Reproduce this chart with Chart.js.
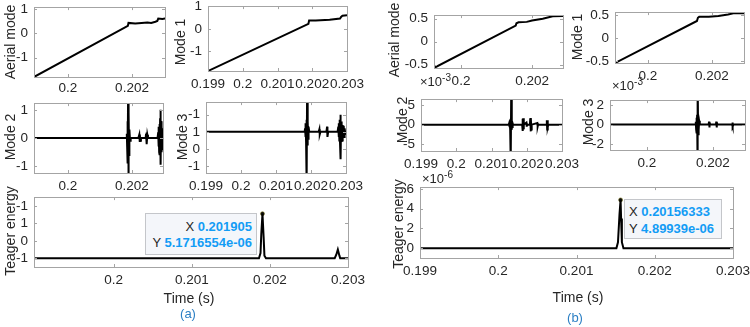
<!DOCTYPE html>
<html>
<head>
<meta charset="utf-8">
<script src="https://cdn.jsdelivr.net/npm/chart.js@4.4.1/dist/chart.umd.min.js"></script>
<style>
  html, body { margin: 0; padding: 0; background: #fff; }
  #fig { position: relative; width: 750px; height: 327px; overflow: hidden;
         font-family: "Liberation Sans", Arial, sans-serif; color: #262626; }
  #fig canvas { position: absolute; }
  .ylab { position: absolute; font-size: 14px; white-space: nowrap;
          transform: translate(-50%, -50%) rotate(-90deg); }
  .txt { position: absolute; white-space: nowrap; transform: translate(-50%, -50%); font-size: 14px; }
  .cap { color: #2b7fc4; font-size: 13px; }
  .mult { position: absolute; font-size: 13px; white-space: nowrap; line-height: 15px; }
  .mult sup { font-size: 10px; vertical-align: 5px; line-height: 0; }
  .tip { position: absolute; box-sizing: border-box; background: #f4f6fa; border: 1px solid #c4c6ca;
         font-size: 13px; white-space: nowrap; }
  .tip b { color: #139cf5; }
</style>
</head>
<body>
<div id="fig"></div>
<script>
// ---- (a) left figure ----
var aerialTimeA = [0.19894, 0.20187, 0.20189, 0.20210, 0.20230, 0.20248, 0.20260, 0.20273, 0.20279, 0.20282, 0.20295, 0.20310];
var aerialValA  = [-1.80, 0.30, 0.42, 0.40, 0.42, 0.44, 0.42, 0.47, 0.50, 0.60, 0.58, 0.62];

var mode1TimeA = [0.199, 0.20189, 0.20191, 0.2021, 0.2025, 0.2028, 0.20283, 0.20287, 0.2030];
var mode1ValA  = [-1.86, 0.22, 0.37, 0.37, 0.40, 0.45, 0.52, 0.58, 0.60];

var mode2TimeA = [0.19894, 0.20182, 0.20184, 0.20185, 0.20186, 0.20187, 0.20188, 0.20189, 0.20190, 0.20191, 0.20192, 0.20194, 0.20196,
                  0.20220, 0.20223, 0.20224, 0.20225, 0.20226, 0.20228,
                  0.20243, 0.20244, 0.20245, 0.20246, 0.20247, 0.20248, 0.20250,
                  0.20280, 0.20282, 0.20283, 0.20284, 0.20285, 0.20286, 0.20287, 0.20288, 0.20289, 0.20290, 0.20291, 0.20292, 0.20293, 0.20294, 0.20295, 0.20296, 0.20297];
var mode2ValA  = [0, 0, 0.15, -0.3, 0.6, -0.9, 1.6, -1.6, 0.9, -0.6, 0.3, -0.1, 0,
                  0, 0.12, -0.14, 0.12, -0.1, 0,
                  0, 0.15, -0.22, 0.2, -0.2, 0.12, 0,
                  0, 0.2, -0.3, 0.4, -0.5, 0.5, -0.6, 0.7, 1.0, -0.95, 0.6, -0.5, 0.45, -0.4, 0.35, -0.3, 0.2];

var mode3TimeA = [0.199, 0.20182, 0.20183, 0.20184, 0.20185, 0.20186, 0.20187, 0.20188, 0.20189, 0.20190, 0.20191, 0.20192, 0.20193, 0.20195,
                  0.20222, 0.20224, 0.20225, 0.20227,
                  0.20244, 0.20246, 0.20247, 0.20249,
                  0.20276, 0.20278, 0.20279, 0.20280, 0.20281, 0.20282, 0.20283, 0.20284, 0.20285, 0.20286, 0.20287, 0.20288, 0.20289,
                  0.20290, 0.20291, 0.20292, 0.20293, 0.20294, 0.20295, 0.20296, 0.20298, 0.203];
var mode3ValA  = [1, 1, 1.2, 0.7, 1.5, 0.4, 1.7, -2, 4, 0.2, 1.6, 0.6, 1.3, 1,
                  1, 1.15, 0.85, 1,
                  1, 1.3, 0.7, 1,
                  1, 1.3, 0.7, 1.5, 0.5, 1.7, 0.3, 2.0, -0.6, 1.6, 0.4, 1.5, 0.5,
                  1.4, 0.6, 1.35, 0.65, 1.3, 0.7, 1.2, 0.9, 1];

var teagerTimeA = [0.19898, 0.20186, 0.20188, 0.20189, 0.201905, 0.20192, 0.20193, 0.20195, 0.20283, 0.20285, 0.20287, 0.20289, 0.2029, 0.203];
var teagerValA  = [-1, -1, -0.7, 0.4, 1.55, 0.2, -0.85, -1, -1, -0.8, -0.5, -0.85, -1, -1];
var peakA = [0.201905, 1.55];

// ---- (b) right figure ----
var aerialTimeB = [0.19924, 0.20154, 0.20156, 0.20162, 0.20185, 0.2020, 0.2023, 0.20258, 0.2029];
var aerialValB  = [-0.57, 0.35, 0.40, 0.42, 0.43, 0.46, 0.50, 0.55, 0.56];

var mode1TimeB = [0.19897, 0.20153, 0.20156, 0.2016, 0.2019, 0.2022, 0.2025, 0.2027, 0.2030];
var mode1ValB  = [-0.54, 0.37, 0.44, 0.46, 0.46, 0.48, 0.51, 0.54, 0.54];

var mode2TimeB = [0.199, 0.20149, 0.20150, 0.20151, 0.20152, 0.20153, 0.20154, 0.20155, 0.20156, 0.20157, 0.20158, 0.20159, 0.20160, 0.20161,
                  0.20187, 0.20188, 0.20189, 0.20190, 0.20191, 0.20192,
                  0.20199, 0.20200, 0.20201,
                  0.20209, 0.20210, 0.20211, 0.20212, 0.20213, 0.20214,
                  0.20230, 0.20231, 0.20232,
                  0.20256, 0.20257, 0.20258, 0.20259, 0.20260, 0.20261, 0.203];
var mode2ValB  = [0, 0, 0.3, -0.6, 1.0, -1.3, 1.5, -9, 9, -1.3, 1.0, -0.6, 0.3, 0,
                  0, 1.5, -1.6, 1.6, -1.2, 0,
                  0.5, -0.5, 0,
                  0, 1.6, -1.7, 1.7, -1.2, 0,
                  0.4, -0.4, 0,
                  0, 1.1, -1.2, 1.1, -0.6, 0, 0];

var mode3TimeB = [0.19888, 0.20146, 0.20148, 0.20149, 0.20150, 0.20151, 0.20152, 0.20153, 0.20154, 0.20155, 0.20156, 0.20157, 0.20158, 0.20160,
                  0.20187, 0.20188, 0.20189, 0.20190, 0.20192,
                  0.20209, 0.20210, 0.20211, 0.20212, 0.20214,
                  0.20258, 0.20259, 0.20260, 0.20262, 0.20297];
var mode3ValB  = [0, 0, 0.3, -0.5, 0.7, -0.9, 1.0, -5, 5, -1.0, 0.8, -0.6, 0.4, 0,
                  0, 0.3, -0.3, 0.2, 0,
                  0, 0.3, -0.3, 0.2, 0,
                  0, 0.2, -0.2, 0, 0];

var teagerTimeB = [0.199, 0.20151, 0.20153, 0.20155, 0.20156333, 0.20157, 0.20158, 0.20160, 0.203];
var teagerValB  = [0, 0, 0.6, 3.5, 4.9, 3.0, 0.6, 0, 0];
var peakB = [0.20156333, 4.9];

// tick values and labels
var xTicksAll  = [0.199, 0.2, 0.201, 0.202, 0.203];
var xLabelsAll = ['0.199', '0.2', '0.201', '0.202', '0.203'];
var xTicksTwo  = [0.2, 0.202];
var xLabelsTwo = ['0.2', '0.202'];
var xTicksTeagerA  = [0.2, 0.201, 0.202, 0.203];
var xLabelsTeagerA = ['0.2', '0.201', '0.202', '0.203'];
var yTicksUnit  = [-1, 0, 1];
var yLabelsUnit = ['-1', '0', '1'];
var yTicksOdd   = [-1, 0, 1, 2];
var yLabelsOdd  = ['-1', '0', '1', '-1'];
var yTicksHalf  = [-0.5, 0, 0.5];
var yLabelsHalf = ['-0.5', '0', '0.5'];
var yTicksFive  = [-5, 0, 5];
var yLabelsFive = ['-5', '0', '5'];
var yTicksTwo   = [-2, 0, 2];
var yLabelsTwo  = ['-2', '0', '2'];
var yTicksTeagerB  = [0, 2, 4, 6];
var yLabelsTeagerB = ['0', '2', '4', '6'];

var fig = document.getElementById('fig');
var FONT = {family: '"Liberation Sans", Arial, sans-serif', size: 13.5};
var TXT = '#262626';
var BOX = '#a4a4a4';

function pts(xs, ys) {
  return xs.map(function(x, i) { return {x: x, y: ys[i]}; });
}

// MATLAB-like box with inward tick marks
var boxPlugin = {
  id: 'matBox',
  afterDatasetsDraw: function(chart) {
    var a = chart.chartArea, ctx = chart.ctx;
    ctx.save();
    ctx.strokeStyle = BOX;
    ctx.lineWidth = 1;
    ctx.beginPath();
    chart.scales.x.ticks.forEach(function(t) {
      var px = Math.round(chart.scales.x.getPixelForValue(t.value)) + 0.5;
      ctx.moveTo(px, a.bottom); ctx.lineTo(px, a.bottom - 3);
      ctx.moveTo(px, a.top); ctx.lineTo(px, a.top + 3);
    });
    chart.scales.y.ticks.forEach(function(t) {
      var py = Math.round(chart.scales.y.getPixelForValue(t.value)) + 0.5;
      ctx.moveTo(a.left, py); ctx.lineTo(a.left + 3, py);
      ctx.moveTo(a.right, py); ctx.lineTo(a.right - 3, py);
    });
    ctx.stroke();
    ctx.strokeRect(Math.round(a.left) + 0.5, Math.round(a.top) + 0.5,
                   Math.round(a.right - a.left), Math.round(a.bottom - a.top));
    ctx.restore();
  }
};

function makePanel(p) {
  var padL = 45, padT = 12, padR = 26, padB = 28;
  var w = p.box[2] - p.box[0], h = p.box[3] - p.box[1];
  var cv = document.createElement('canvas');
  cv.width = w + padL + padR;
  cv.height = h + padT + padB;
  cv.style.left = (p.box[0] - padL) + 'px';
  cv.style.top = (p.box[1] - padT) + 'px';
  fig.appendChild(cv);

  var datasets = [{
    data: pts(p.xs, p.ys),
    borderColor: '#000',
    borderWidth: 2,
    pointRadius: 0,
    tension: 0,
    fill: false
  }];
  if (p.peak) {
    datasets.push({
      data: [{x: p.peak[0], y: p.peak[1]}],
      showLine: false,
      pointRadius: 2,
      pointBackgroundColor: '#111',
      pointBorderColor: '#6b6400',
      pointBorderWidth: 0.5
    });
  }

  new Chart(cv, {
    type: 'line',
    data: {datasets: datasets},
    options: {
      responsive: false,
      animation: false,
      devicePixelRatio: 1,
      layout: {padding: {left: 0, top: padT, right: padR, bottom: 0}},
      plugins: {legend: {display: false}, tooltip: {enabled: false}},
      scales: {
        x: {
          type: 'linear', min: p.xr[0], max: p.xr[1],
          grid: {display: false, drawTicks: false},
          border: {display: false},
          afterBuildTicks: function(s) { s.ticks = p.xt.map(function(v) { return {value: v}; }); },
          afterFit: function(s) { s.height = padB; },
          ticks: {
            autoSkip: false, maxRotation: 0, minRotation: 0, padding: p.xpad || 5,
            font: FONT, color: TXT,
            callback: function(v, i) { return p.xl[i]; }
          }
        },
        y: {
          type: 'linear', min: p.yr[0], max: p.yr[1],
          grid: {display: false, drawTicks: false},
          border: {display: false},
          afterBuildTicks: function(s) { s.ticks = p.yt.map(function(v) { return {value: v}; }); },
          afterFit: function(s) { s.width = padL; },
          ticks: {
            autoSkip: false, padding: 6,
            font: FONT, color: TXT,
            callback: function(v, i) { return p.yl[i]; }
          }
        }
      }
    },
    plugins: [boxPlugin]
  });
}

var panels = [
  {box: [34, 5, 165, 77],    xr: [0.19894, 0.20303], yr: [-1.8, 1.07],  xs: aerialTimeA, ys: aerialValA, xt: xTicksTwo, xl: xLabelsTwo, yt: yTicksUnit, yl: yLabelsUnit, xpad: 3},
  {box: [208, 4, 347, 71],   xr: [0.199, 0.203],     yr: [-1.86, 1.0],  xs: mode1TimeA, ys: mode1ValA, xt: xTicksAll, xl: xLabelsAll, yt: yTicksUnit, yl: yLabelsUnit},
  {box: [34, 101, 163, 173], xr: [0.19894, 0.20297], yr: [-1.24, 1.24], xs: mode2TimeA, ys: mode2ValA, xt: xTicksTwo, xl: xLabelsTwo, yt: yTicksUnit, yl: yLabelsUnit},
  {box: [206, 100, 346, 173], xr: [0.199, 0.203],    yr: [-1.4, 2.73],  xs: mode3TimeA, ys: mode3ValA, xt: xTicksAll, xl: xLabelsAll, yt: yTicksOdd, yl: yLabelsOdd},
  {box: [34, 195, 348, 267], xr: [0.19898, 0.203],   yr: [-1.5, 2.5],   xs: teagerTimeA, ys: teagerValA, xt: xTicksTeagerA, xl: xLabelsTeagerA, yt: yTicksOdd, yl: yLabelsOdd, peak: peakA},
  {box: [434, 13, 563, 68],  xr: [0.19924, 0.20287], yr: [-0.57, 0.577], xs: aerialTimeB, ys: aerialValB, xt: xTicksTwo, xl: xLabelsTwo, yt: yTicksHalf, yl: yLabelsHalf},
  {box: [615, 10, 744, 63],  xr: [0.19897, 0.203],   yr: [-0.54, 0.5625], xs: mode1TimeB, ys: mode1ValB, xt: xTicksTwo, xl: xLabelsTwo, yt: yTicksHalf, yl: yLabelsHalf},
  {box: [421, 97, 562, 151], xr: [0.199, 0.203],     yr: [-6.7, 6.5],   xs: mode2TimeB, ys: mode2ValB, xt: xTicksAll, xl: xLabelsAll, yt: yTicksFive, yl: yLabelsFive},
  {box: [610, 98, 745, 150], xr: [0.19888, 0.20297], yr: [-2.6, 2.5],   xs: mode3TimeB, ys: mode3ValB, xt: xTicksTwo, xl: xLabelsTwo, yt: yTicksTwo, yl: yLabelsTwo},
  {box: [420, 185, 733, 258], xr: [0.199, 0.203],    yr: [-1, 6.2],     xs: teagerTimeB, ys: teagerValB, xt: xTicksAll, xl: xLabelsAll, yt: yTicksTeagerB, yl: yLabelsTeagerB, peak: peakB}
];
panels.forEach(makePanel);

// text: axis titles, multipliers, data tips, captions
function addDiv(cls, html, css) {
  var d = document.createElement('div');
  d.className = cls;
  d.innerHTML = html;
  for (var k in css) d.style[k] = css[k];
  fig.appendChild(d);
}
var yTitles = [
  ['Aerial mode', 10, 42], ['Mode 1', 180, 42], ['Mode 2', 10, 137], ['Mode 3', 182, 137], ['Teager energy', 10, 231],
  ['Aerial mode', 394, 40], ['Mode 1', 577, 37], ['Mode 2', 402, 120], ['Mode 3', 588, 122], ['Teager energy', 398, 224]
];
yTitles.forEach(function(t) { addDiv('ylab', t[0], {left: t[1] + 'px', top: t[2] + 'px'}); });

addDiv('mult', '&times;10<sup>-3</sup>', {left: '420px', top: '74px'});
addDiv('mult', '&times;10<sup>-3</sup>', {left: '612px', top: '78px'});
addDiv('mult', '&times;10<sup>-6</sup>', {left: '422px', top: '171px'});

addDiv('tip', 'X <b>0.201905</b><br>Y <b>5.1716554e-06</b>',
  {left: '145px', top: '213px', width: '112px', height: '42px', textAlign: 'right', padding: '5px 4px 0 0', lineHeight: '15.5px'});
addDiv('tip', 'X <b>0.20156333</b><br>Y <b>4.89939e-06</b>',
  {left: '624px', top: '199px', width: '98px', height: '40px', textAlign: 'left', padding: '4px 0 0 4px', lineHeight: '16.5px'});

addDiv('txt', 'Time (s)', {left: '189px', top: '298px'});
addDiv('txt', 'Time (s)', {left: '578px', top: '297px'});
addDiv('txt cap', '(a)', {left: '188px', top: '313px'});
addDiv('txt cap', '(b)', {left: '575px', top: '317px'});
</script>
</body>
</html>
